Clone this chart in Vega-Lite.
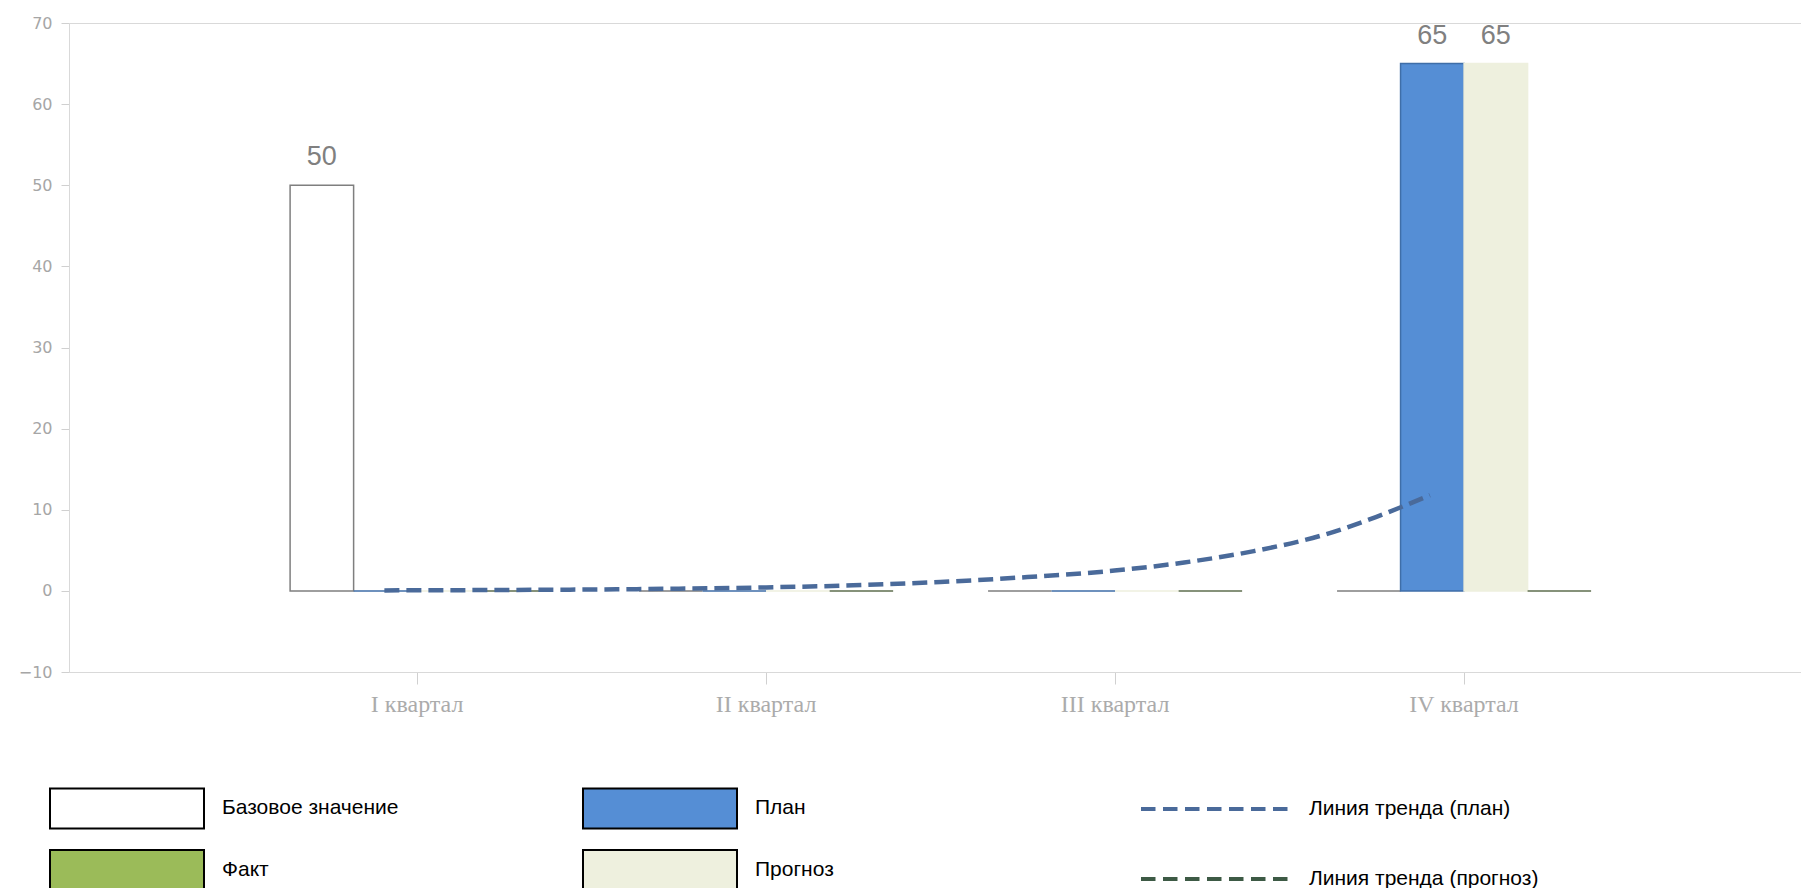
{
  "$schema": "https://vega.github.io/schema/vega-lite/v6.json",
  "autosize": {"type": "none"},
  "padding": {"left": 69, "top": 23, "right": 0, "bottom": 216},
  "width": 1732,
  "height": 649,
  "background": "#ffffff",
  "datasets": {
    "bars": [
      {"quarter": "I квартал", "series": "Базовое значение", "value": 50},
      {"quarter": "I квартал", "series": "План", "value": 0},
      {"quarter": "I квартал", "series": "Прогноз", "value": 0},
      {"quarter": "I квартал", "series": "Факт", "value": 0},
      {"quarter": "II квартал", "series": "Базовое значение", "value": 0},
      {"quarter": "II квартал", "series": "План", "value": 0},
      {"quarter": "II квартал", "series": "Прогноз", "value": 0},
      {"quarter": "II квартал", "series": "Факт", "value": 0},
      {"quarter": "III квартал", "series": "Базовое значение", "value": 0},
      {"quarter": "III квартал", "series": "План", "value": 0},
      {"quarter": "III квартал", "series": "Прогноз", "value": 0},
      {"quarter": "III квартал", "series": "Факт", "value": 0},
      {"quarter": "IV квартал", "series": "Базовое значение", "value": 0},
      {"quarter": "IV квартал", "series": "План", "value": 65},
      {"quarter": "IV квартал", "series": "Прогноз", "value": 65},
      {"quarter": "IV квартал", "series": "Факт", "value": 0}
    ],
    "trend": [
      {"pos": 0.905, "value": 0.06, "series": "Линия тренда (план)"},
      {"pos": 1.0, "value": 0.07, "series": "Линия тренда (план)"},
      {"pos": 1.25, "value": 0.11, "series": "Линия тренда (план)"},
      {"pos": 1.5, "value": 0.17, "series": "Линия тренда (план)"},
      {"pos": 1.75, "value": 0.27, "series": "Линия тренда (план)"},
      {"pos": 2.0, "value": 0.43, "series": "Линия тренда (план)"},
      {"pos": 2.25, "value": 0.68, "series": "Линия тренда (план)"},
      {"pos": 2.5, "value": 1.1, "series": "Линия тренда (план)"},
      {"pos": 2.75, "value": 1.7, "series": "Линия тренда (план)"},
      {"pos": 3.0, "value": 2.5, "series": "Линия тренда (план)"},
      {"pos": 3.2, "value": 3.5, "series": "Линия тренда (план)"},
      {"pos": 3.4, "value": 4.9, "series": "Линия тренда (план)"},
      {"pos": 3.6, "value": 6.9, "series": "Линия тренда (план)"},
      {"pos": 3.75, "value": 9.1, "series": "Линия тренда (план)"},
      {"pos": 3.905, "value": 11.8, "series": "Линия тренда (план)"}
    ]
  },
  "config": {
    "view": {"stroke": "#d9d9d9", "strokeWidth": 1},
    "axis": {"grid": false, "title": null}
  },
  "layer": [
    {
      "data": {"name": "bars"},
      "encoding": {
        "x": {
          "field": "quarter", "type": "nominal",
          "sort": ["I квартал", "II квартал", "III квартал", "IV квартал"],
          "scale": {"paddingInner": 0.272, "paddingOuter": 0.6175, "align": 0.513},
          "axis": {
            "labelAngle": 0, "labelFont": "Liberation Serif", "labelFontSize": 24,
            "labelColor": "#ababab", "labelPadding": 8, "tickSize": 12,
            "tickColor": "#d0d0d0", "domainColor": "#d9d9d9"
          }
        },
        "xOffset": {
          "field": "series", "type": "nominal",
          "sort": ["Базовое значение", "План", "Прогноз", "Факт"],
          "scale": {"paddingInner": 0, "paddingOuter": 0}
        },
        "y": {
          "field": "value", "type": "quantitative",
          "scale": {"domain": [-10, 70], "nice": false},
          "axis": {
            "values": [-10, 0, 10, 20, 30, 40, 50, 60, 70],
            "labelFont": "DejaVu Sans", "labelFontSize": 16, "labelColor": "#a6a6a6",
            "tickSize": 8, "tickColor": "#d0d0d0", "labelPadding": 9, "domainColor": "#d9d9d9"
          }
        }
      },
      "layer": [
        {
          "mark": {"type": "bar", "strokeWidth": 1.5},
          "encoding": {
            "fill": {
              "field": "series", "type": "nominal",
              "scale": {
                "domain": ["Базовое значение", "Факт", "План", "Прогноз"],
                "range": ["#ffffff", "#9bbb59", "#558ed5", "#eef0de"]
              },
              "legend": {
                "orient": "none", "legendX": 31, "legendY": 758,
                "title": null, "columns": 2, "columnPadding": 180, "rowPadding": 10,
                "symbolType": "M-3,-0.78H3V0.78H-3Z", "symbolSize": 2635,
                "symbolStrokeColor": "#000000", "symbolStrokeWidth": 2, "symbolOpacity": 1,
                "labelFont": "Liberation Sans", "labelFontSize": 21, "labelColor": "#000000",
                "labelOffset": 68, "labelLimit": 400
              }
            },
            "stroke": {
              "condition": [
                {"test": "datum.series === 'Базовое значение'", "value": "#7f7f7f"},
                {"test": "datum.series === 'План'", "value": "#3f6ea8"},
                {"test": "datum.series === 'Факт'", "value": "#5f6f4f"}
              ],
              "value": "#eef0de"
            }
          }
        },
        {
          "transform": [{"filter": "datum.value > 0"}],
          "mark": {"type": "text", "baseline": "middle", "dy": -28, "font": "Liberation Sans", "fontSize": 27, "color": "#808080"},
          "encoding": {
            "text": {"field": "value", "type": "quantitative", "format": "d"}
          }
        }
      ]
    },
    {
      "mark": {"type": "rule", "color": "#a6a6a6", "strokeWidth": 1.5},
      "encoding": {"y": {"datum": 0}}
    },
    {
      "data": {"name": "trend"},
      "mark": {"type": "line", "strokeDash": [15, 7], "strokeWidth": 4.5, "interpolate": "monotone"},
      "encoding": {
        "x": {"field": "pos", "type": "quantitative", "scale": {"domain": [0, 4.97], "nice": false, "zero": false}, "axis": null},
        "y": {"field": "value", "type": "quantitative"},
        "stroke": {
          "field": "series", "type": "nominal",
          "scale": {"domain": ["Линия тренда (план)", "Линия тренда (прогноз)"], "range": ["#4a6a9a", "#3d5a45"]},
          "legend": {
            "orient": "none", "legendX": 1119, "legendY": 759, "title": null,
            "rowPadding": 33, "symbolType": "M-3,0H3", "symbolSize": 2434,
            "symbolStrokeWidth": 4, "symbolDash": [14.5, 7.5], "symbolFillColor": "transparent",
            "labelFont": "Liberation Sans", "labelFontSize": 21, "labelColor": "#000000",
            "labelOffset": 67, "labelLimit": 400
          }
        }
      }
    }
  ],
  "resolve": {"scale": {"x": "independent"}}
}
